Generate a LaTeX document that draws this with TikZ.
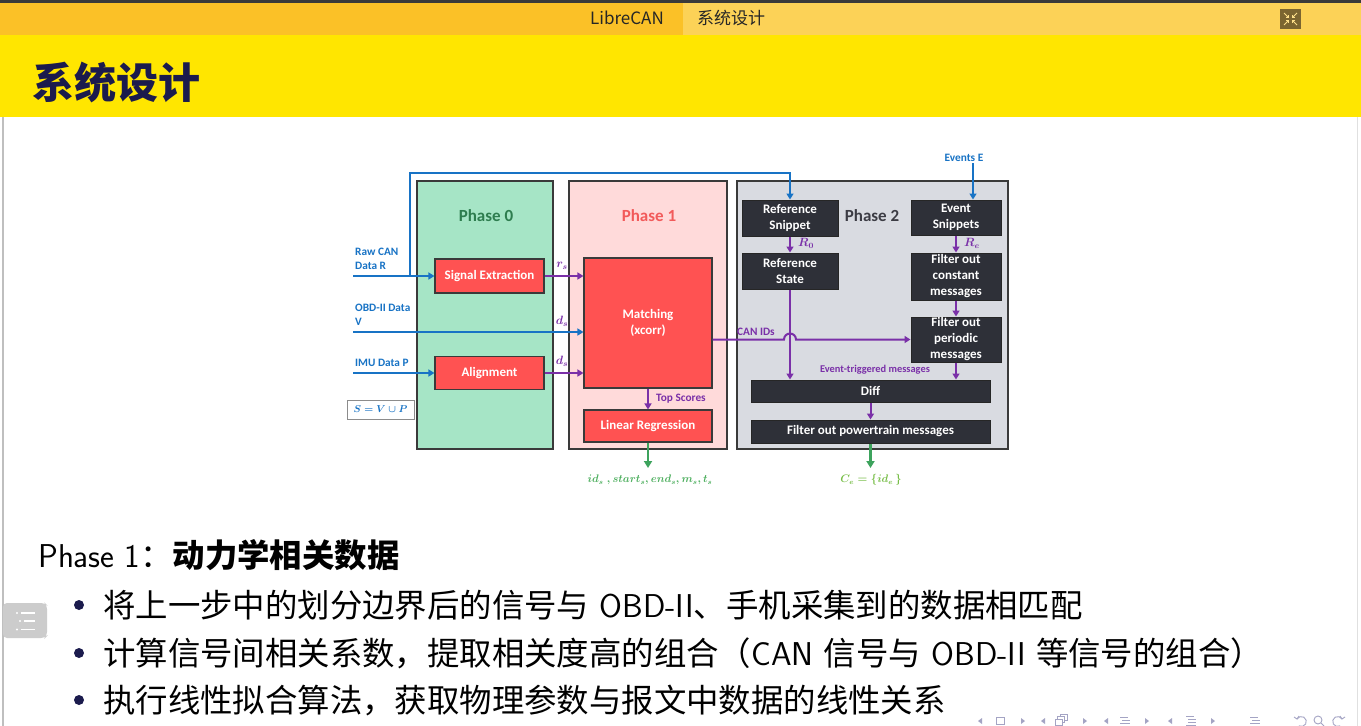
\documentclass[tikz,border=0pt]{standalone}
\usepackage{amsmath,amssymb}
\usepackage{fontspec}
\usetikzlibrary{arrows.meta,calc}
\newfontfamily\cjk{Noto Sans CJK SC}[Scale=0.982]
\newfontfamily\dia{Carlito}
\definecolor{topstrip}{HTML}{3A3A3A}
\definecolor{headleft}{HTML}{FBC127}
\definecolor{headright}{HTML}{FCD257}
\definecolor{titlebar}{HTML}{FFE600}
\definecolor{navy}{HTML}{1B1B4D}
\definecolor{edge}{HTML}{3A3A3A}
\definecolor{mint}{HTML}{A6E5C6}
\definecolor{pinkbg}{HTML}{FFDADA}
\definecolor{greybg}{HTML}{D9DBE1}
\definecolor{boxred}{HTML}{FF5252}
\definecolor{boxdark}{HTML}{2E3038}
\definecolor{flowblue}{HTML}{1873C5}
\definecolor{flowpurple}{HTML}{7A30A8}
\definecolor{flowgreen}{HTML}{3DA35D}
\definecolor{outgreen}{HTML}{4DAF5E}
\definecolor{outlime}{HTML}{78BE48}
\definecolor{p0title}{HTML}{2E7D4F}
\definecolor{p1title}{HTML}{F25A5A}
\definecolor{p2title}{HTML}{3C3C44}
\definecolor{navgray}{HTML}{A4A4C4}
\definecolor{iconbg}{HTML}{7B6530}
\begin{document}
\begin{tikzpicture}[x=1pt,y=-1pt,
  phase/.style={draw=edge,line width=1.3pt,inner sep=0pt},
  phasetitle/.style={font=\dia\bfseries\fontsize{17}{19}\selectfont,inner sep=0pt},
  redbox/.style={draw=edge,fill=boxred,line width=1.1pt,text=white,
    font=\dia\bfseries\fontsize{13}{16}\selectfont,inner sep=0pt,align=center},
  darkbox/.style={draw=black!85,fill=boxdark,line width=1pt,text=white,
    font=\dia\bfseries\fontsize{13}{16}\selectfont,inner sep=0pt,align=center},
  bluelab/.style={text=flowblue,font=\dia\bfseries\fontsize{11.3}{14}\selectfont,inner sep=0pt,align=left},
  purplelab/.style={text=flowpurple,font=\dia\bfseries\fontsize{11.3}{13}\selectfont,inner sep=0pt},
  mathlab/.style={text=flowpurple,font=\fontsize{11.5}{13}\selectfont\boldmath,inner sep=0pt},
  bluearrow/.style={draw=flowblue,line width=2.2pt,-{Triangle[length=6pt,width=7pt]}},
  purplearrow/.style={draw=flowpurple,line width=2pt,-{Triangle[length=6pt,width=7pt]}},
  greenarrow/.style={draw=flowgreen,line width=2.2pt,-{Triangle[length=7pt,width=8pt]}},
  bodytext/.style={anchor=base west,inner sep=0pt,font=\sffamily\fontsize{33}{38}\selectfont},
  bullet/.style={circle,fill=navy,inner sep=0pt,minimum size=10pt},
  navline/.style={draw=navgray,line width=0.9pt},
]
\useasboundingbox (0,0) rectangle (1361,726);
\fill[white] (0,0) rectangle (1361,726);

% ---- frame header ----
\fill[topstrip] (0,0) rectangle (1361,3);
\fill[headleft] (0,3) rectangle (683,35);
\fill[headright] (683,3) rectangle (1361,35);
\fill[titlebar] (0,35) rectangle (1361,117);
\node[anchor=base east,inner sep=0pt,text=black!85,font=\cjk\fontsize{17.3}{20}\selectfont] (sect) at (664,24) {LibreCAN};
\node[anchor=base west,inner sep=0pt,text=black!85,font=\cjk\fontsize{17.3}{20}\selectfont] (subsect) at (697,24) {系统设计};
% fullscreen toggle icon
\node[fill=iconbg,minimum width=21pt,minimum height=20pt,inner sep=0pt] (icon) at (1290.5,19) {};
\begin{scope}[draw=headright!70!white,line width=1pt]
  \draw (1284,13) -- (1288,17); \draw (1297,13) -- (1293,17);
  \draw (1284,25) -- (1288,21); \draw (1297,25) -- (1293,21);
  \draw (1286,17.5) -- (1288.5,17.5) -- (1288.5,15);
  \draw (1295,17.5) -- (1292.5,17.5) -- (1292.5,15);
  \draw (1286,20.5) -- (1288.5,20.5) -- (1288.5,23);
  \draw (1295,20.5) -- (1292.5,20.5) -- (1292.5,23);
\end{scope}
\node[anchor=base west,inner sep=0pt,text=navy,font=\cjk\bfseries\fontsize{42.8}{48}\selectfont] (title) at (32,98) {系统设计};

% ---- page edges ----
\draw[black!25,line width=1.5pt] (3,117) -- (3,726);
\draw[black!12,line width=1pt] (1357,117) -- (1357,726);

% ---- phase panels ----
\node[phase,fill=mint,minimum width=136pt,minimum height=268pt] (p0) at (485,315) {};
\node[phase,fill=pinkbg,minimum width=158pt,minimum height=268pt] (p1) at (648,315) {};
\node[phase,fill=greybg,minimum width=271pt,minimum height=268pt] (p2) at (872.5,315) {};
\node[phasetitle,text=p0title] (p0t) at (486,216) {Phase 0};
\node[phasetitle,text=p1title] (p1t) at (649,216) {Phase 1};
\node[phasetitle,text=p2title] (p2t) at (872,216) {Phase 2};

% ---- processing blocks ----
\node[redbox,minimum width=109pt,minimum height=34pt] (sig) at (489.5,276) {Signal Extraction};
\node[redbox,minimum width=109pt,minimum height=33pt] (ali) at (489.5,373) {Alignment};
\node[redbox,minimum width=128pt,minimum height=130pt] (mat) at (648,323) {Matching\\(xcorr)};
\node[redbox,minimum width=128pt,minimum height=32pt] (lin) at (648,426) {Linear Regression};

\node[darkbox,minimum width=96pt,minimum height=36pt] (rsn) at (790,218) {Reference\\Snippet};
\node[darkbox,minimum width=96pt,minimum height=36pt] (rst) at (790,271) {Reference\\State};
\node[darkbox,minimum width=90pt,minimum height=35pt] (evs) at (956,217.5) {Event\\Snippets};
\node[darkbox,minimum width=90pt,minimum height=47pt] (fco) at (956,276.5) {Filter out\\constant\\messages};
\node[darkbox,minimum width=90pt,minimum height=45pt] (fpe) at (956,339.5) {Filter out\\periodic\\messages};
\node[darkbox,minimum width=239pt,minimum height=22pt] (dif) at (870.5,391) {Diff};
\node[darkbox,minimum width=239pt,minimum height=23pt] (fpw) at (870.5,431.5) {Filter out powertrain messages};

% ---- inputs ----
\coordinate (rawin) at (353,276);
\coordinate (obdin) at (353,332);
\coordinate (imuin) at (353,373);
\coordinate (branch) at (410,276);
\coordinate (topturn) at (790,173);
\coordinate (evin) at (973,163);
\coordinate (linout) at (648,468);
\coordinate (pwout) at (870.5,468);

\node[bluelab,anchor=south west] (rawlab) at (355,270) {Raw CAN\\Data R};
\node[bluelab,anchor=south west] (obdlab) at (355,326) {OBD-II Data\\V};
\node[bluelab,anchor=south west] (imulab) at (355,367) {IMU Data P};
\node[draw=black!45,fill=white,line width=0.8pt,minimum width=67pt,minimum height=19pt,inner sep=0pt,
      text=flowblue,font=\fontsize{10}{12}\selectfont\boldmath] (setlab) at (380.5,409.5) {$S = V\cup P$};
\node[bluelab,anchor=south] (evlab) at (964,162) {Events E};

\draw[bluearrow] (rawin) -- (sig.west);
\draw[bluearrow] (branch) |- (topturn) -- (rsn.north);
\draw[bluearrow] (obdin) -- (obdin -| mat.west);
\draw[bluearrow] (imuin) -- (ali.west);
\draw[bluearrow] (evin) -- (evin |- evs.north);

% ---- phase 0 -> phase 1 ----
\draw[purplearrow] (sig.east) -- (sig.east -| mat.west);
\draw[purplearrow] (ali.east) -- (ali.east -| mat.west);
\node[mathlab] (rslab) at (562,266) {$r_s$};
\node[mathlab] (dslab1) at (562,321) {$d_s$};
\node[mathlab] (dslab2) at (562,361) {$d_s$};

% ---- phase 1 ----
\draw[purplearrow] (mat.south) -- (lin.north);
\node[purplelab,anchor=west] (toplab) at (656,399) {Top Scores};
\draw[greenarrow] (lin.south) -- (linout);
\node[inner sep=0pt,text=outgreen,font=\fontsize{10.5}{12}\selectfont\boldmath] (linlab) at (650,480)
  {$id_s\ , start_s, end_s, m_s, t_s$};

% ---- phase 2 ----
\draw[purplearrow] (rsn.south) -- (rst.north);
\node[mathlab,anchor=west] (r0lab) at (798,243) {$R_0$};
\draw[purplearrow] (rst.south) -- (rst.south |- dif.north);
\draw[purplearrow] (evs.south) -- (fco.north);
\node[mathlab,anchor=west] (relab) at (964,243) {$R_e$};
\draw[purplearrow] (fco.south) -- (fpe.north);
\draw[purplearrow] (fpe.south) -- (fpe.south |- dif.north);
\node[purplelab,font=\dia\bfseries\fontsize{10.4}{12}\selectfont] (evtlab) at (875,370) {Event-triggered messages};
\draw[purplearrow] (mat.east |- fpe.west) -- (784,339.5) arc (180:0:6pt) -- (fpe.west);
\node[purplelab,anchor=south west] (idlab) at (737,336) {CAN IDs};
\draw[purplearrow] (dif.south) -- (fpw.north);
\draw[greenarrow] (fpw.south) -- (pwout);
\node[inner sep=0pt,text=outlime,font=\fontsize{10.5}{12}\selectfont\boldmath] (pwlab) at (871,480)
  {$C_e = \{id_e\,\}$};

% ---- slide text ----
\node[bodytext] (head) at (38,567) {Phase 1{\cjk ：\bfseries 动力学相关数据}};
\node[bullet] (b1) at (79,605) {};
\node[bullet] (b2) at (79,653) {};
\node[bullet] (b3) at (79,700) {};
\node[bodytext] (l1) at (103,617) {{\cjk 将上一步中的划分边界后的信号与} OBD-II{\cjk 、手机采集到的数据相匹配}};
\node[bodytext] (l2) at (103,665) {{\cjk 计算信号间相关系数，提取相关度高的组合（}CAN {\cjk 信号与} OBD-II {\cjk 等信号的组合）}};
\node[bodytext] (l3) at (103,712) {{\cjk 执行线性拟合算法，获取物理参数与报文中数据的线性关系}};

% ---- outline side tab ----
\fill[black!20,rounded corners=4pt] (3,603) -- (45,603) -- (47,605) -- (47,636) -- (45,638) -- (3,638) -- cycle;
\begin{scope}[white,line width=1.6pt]
  \fill (17,613) circle (1.2pt); \draw (21,613) -- (35,613);
  \fill (20,621) circle (1.2pt); \draw (24,621) -- (35,621);
  \fill (17,629.5) circle (1.2pt); \draw (21,629.5) -- (35,629.5);
\end{scope}

% ---- navigation symbols ----
\begin{scope}[navgray]
  \fill (978,721) -- (982,718) -- (982,724) -- cycle;
  \draw[navline] (996,717) rectangle (1004,724);
  \fill (1021,718) -- (1025,721) -- (1021,724) -- cycle;
  \fill (1041,721) -- (1045,718) -- (1045,724) -- cycle;
  \draw[navline] (1055,719) rectangle (1062,725);
  \draw[navline] (1057.5,719) -- (1057.5,716.5) -- (1064.5,716.5) -- (1064.5,722.5) -- (1062,722.5);
  \draw[navline] (1060,716.5) -- (1060,714) -- (1067,714) -- (1067,720) -- (1064.5,720);
  \fill (1083,718) -- (1087,721) -- (1083,724) -- cycle;
  \fill (1104,721) -- (1108,718) -- (1108,724) -- cycle;
  \draw[navline] (1120,717) -- (1128,717) (1122,720) -- (1130,720) (1120,723) -- (1130,723);
  \fill (1145,718) -- (1149,721) -- (1145,724) -- cycle;
  \fill (1168,721) -- (1172,718) -- (1172,724) -- cycle;
  \draw[navline] (1186,716) -- (1194,716) (1188,719) -- (1196,719) (1188,722) -- (1196,722) (1186,725) -- (1196,725);
  \fill (1211,718) -- (1215,721) -- (1211,724) -- cycle;
  \draw[navline] (1250,717) -- (1258,717) (1252,720) -- (1260,720) (1250,723) -- (1260,723);
  \draw[navline] (1297,719) arc (150:-120:5pt);
  \draw[navline] (1294,717) -- (1297,719) -- (1299,716);
  \draw[navline] (1318,720) circle (4pt); \draw[navline] (1321,723) -- (1324,726);
  \draw[navline] (1342,719) arc (30:300:5pt);
  \draw[navline] (1345,717) -- (1342,719) -- (1340,716);
\end{scope}
\end{tikzpicture}
\end{document}
